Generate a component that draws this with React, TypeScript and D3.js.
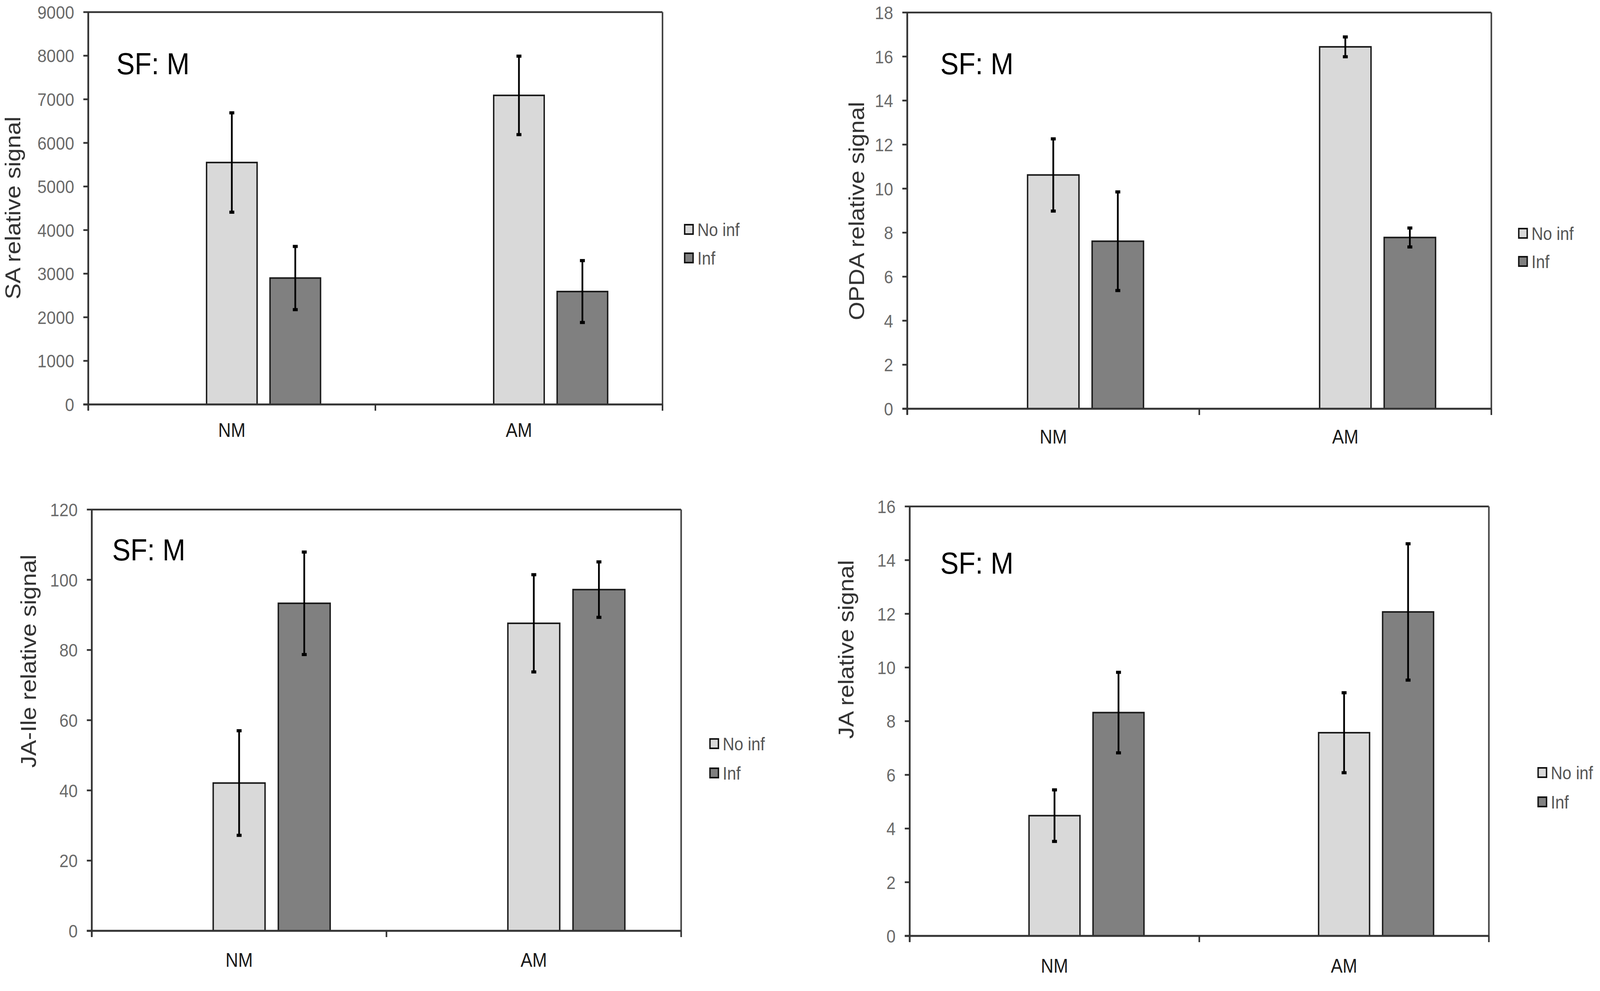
import React from "react";
import * as d3 from "d3";

// ---------- data ----------
const categories = ["NM", "AM"];
const seriesNames = ["No inf", "Inf"];
const seriesFills = ["#d9d9d9", "#808080"];

const saNoInf = [5550, 7090];
const saNoInfErr = [1140, 900];
const saInf = [2900, 2590];
const saInfErr = [725, 710];

const opdaNoInf = [10.62, 16.44];
const opdaNoInfErr = [1.64, 0.45];
const opdaInf = [7.61, 7.78];
const opdaInfErr = [2.24, 0.43];

const jaIleNoInf = [42.1, 87.6];
const jaIleNoInfErr = [14.9, 13.85];
const jaIleInf = [93.3, 97.2];
const jaIleInfErr = [14.6, 7.9];

const jaNoInf = [4.48, 7.57];
const jaNoInfErr = [0.96, 1.49];
const jaInf = [8.32, 12.07];
const jaInfErr = [1.5, 2.54];

const yTitles = ["SA relative signal", "OPDA relative signal", "JA-Ile relative signal", "JA relative signal"];
const yMaxes = [9000, 18, 120, 16];
const ySteps = [1000, 2, 20, 2];
const panelLabel = "SF: M";

// ---------- layout ----------
type Layout = {
  left: number; right: number; top: number; bottom: number;
  titleX: number; titleY: number; sfX: number; sfY: number;
  legX: number; legY1: number; legY2: number; labelY: number;
};
const layouts: Layout[] = [
  { left: 251, right: 1884, top: 31, bottom: 1035, titleX: 36, titleY: 532, sfX: 331, sfY: 190, legX: 1945, legY1: 587, legY2: 660, labelY: 1100 },
  { left: 2580, right: 4241, top: 32, bottom: 1046, titleX: 2435, titleY: 540, sfX: 2674, sfY: 190, legX: 4317, legY1: 597, legY2: 669, labelY: 1117 },
  { left: 261, right: 1937, top: 1304, bottom: 2382, titleX: 80, titleY: 1692, sfX: 319, sfY: 1434, legX: 2017, legY1: 1903, legY2: 1978, labelY: 2456 },
  { left: 2587, right: 4234, top: 1296, bottom: 2395, titleX: 2405, titleY: 1662, sfX: 2674, sfY: 1468, legX: 4372, legY1: 1977, legY2: 2052, labelY: 2471 },
];

const panelSeries = [
  [[saNoInf, saNoInfErr], [saInf, saInfErr]],
  [[opdaNoInf, opdaNoInfErr], [opdaInf, opdaInfErr]],
  [[jaIleNoInf, jaIleNoInfErr], [jaIleInf, jaIleInfErr]],
  [[jaNoInf, jaNoInfErr], [jaInf, jaInfErr]],
];

const FONT = "'Liberation Sans', Arial, 'DejaVu Sans', sans-serif";

function Panel({ idx }: { idx: number }) {
  const L = layouts[idx];
  const x = d3.scaleBand<string>().domain(categories).range([L.left, L.right]).paddingInner(0).paddingOuter(0);
  const y = d3.scaleLinear().domain([0, yMaxes[idx]]).range([L.bottom, L.top]);
  const bw = x.bandwidth();
  const barW = bw * 0.176;
  const offs = bw * 0.221;
  const ticks = d3.range(0, yMaxes[idx] + ySteps[idx] / 2, ySteps[idx]);
  const xTicks = [L.left, ...categories.map((c) => (x(c) as number) + bw)];
  const series = panelSeries[idx];

  return (
    <g>
      {/* frame */}
      <line x1={L.left} x2={L.right} y1={L.top} y2={L.top} stroke="#333" strokeWidth={4.5} />
      <line x1={L.right} x2={L.right} y1={L.top} y2={L.bottom} stroke="#444" strokeWidth={4.5} />
      {/* bars */}
      {series.map(([vals, errs], s) =>
        categories.map((c, i) => {
          const cx = (x(c) as number) + bw / 2 + s * offs;
          const v = vals[i];
          return (
            <g key={`${s}-${i}`}>
              <rect x={cx - barW / 2} y={y(v)} width={barW} height={y(0) - y(v)} fill={seriesFills[s]} stroke="#1a1a1a" strokeWidth={4} />
              <line x1={cx} x2={cx} y1={y(v + errs[i])} y2={y(v - errs[i])} stroke="#000" strokeWidth={5} />
              <line x1={cx - 7} x2={cx + 7} y1={y(v + errs[i])} y2={y(v + errs[i])} stroke="#000" strokeWidth={8} />
              <line x1={cx - 7} x2={cx + 7} y1={y(v - errs[i])} y2={y(v - errs[i])} stroke="#000" strokeWidth={8} />
            </g>
          );
        })
      )}
      {/* axes */}
      <line x1={L.left} x2={L.left} y1={L.top - 2} y2={L.bottom + 15} stroke="#333" strokeWidth={5} />
      <line x1={L.left - 14} x2={L.right} y1={L.bottom} y2={L.bottom} stroke="#333" strokeWidth={5} />
      {ticks.map((t) => (
        <g key={t}>
          <line x1={L.left - 14} x2={L.left} y1={y(t)} y2={y(t)} stroke="#333" strokeWidth={4.5} />
          <text x={L.left - 40} y={y(t)} dy="0.36em" textAnchor="end" fontFamily={FONT} fontSize={47} fill="#6a6a6a">
            {t}
          </text>
        </g>
      ))}
      {xTicks.map((t, i) => (
        <line key={i} x1={t} x2={t} y1={L.bottom} y2={L.bottom + 16} stroke="#333" strokeWidth={4.5} />
      ))}
      {categories.map((c) => (
        <text key={c} x={(x(c) as number) + bw / 2} y={L.labelY} dy="0.36em" textAnchor="middle" fontFamily={FONT} fontSize={50} fill="#1a1a1a">
          {c}
        </text>
      ))}
      {/* y title */}
      <text transform={`translate(${L.titleX},${L.titleY}) rotate(-90)`} textAnchor="middle" dy="0.36em" fontFamily={FONT} fontSize={61} fill="#333">
        {yTitles[idx]}
      </text>
      {/* SF label */}
      <text x={L.sfX} y={L.sfY} fontFamily={FONT} fontSize={78} fill="#000">
        {panelLabel}
      </text>
      {/* legend */}
      {seriesNames.map((n, s) => {
        const ly = s === 0 ? L.legY1 : L.legY2;
        return (
          <g key={n}>
            <rect x={L.legX + 2} y={ly - 12} width={24} height={24} fill={seriesFills[s]} stroke="#111" strokeWidth={4} />
            <text x={L.legX + 38} y={ly} dy="0.36em" fontFamily={FONT} fontSize={46} fill="#555">
              {n}
            </text>
          </g>
        );
      })}
    </g>
  );
}

export default function App() {
  return (
    <svg
      viewBox="0 0 4550 2536"
      preserveAspectRatio="none"
      style={{ position: "fixed", left: 0, top: 0, width: "100vw", height: "100vh", background: "#fff", display: "block" }}
    >
      <rect x={0} y={0} width={4550} height={2536} fill="#fff" />
      {layouts.map((_, i) => (
        <Panel key={i} idx={i} />
      ))}
    </svg>
  );
}
